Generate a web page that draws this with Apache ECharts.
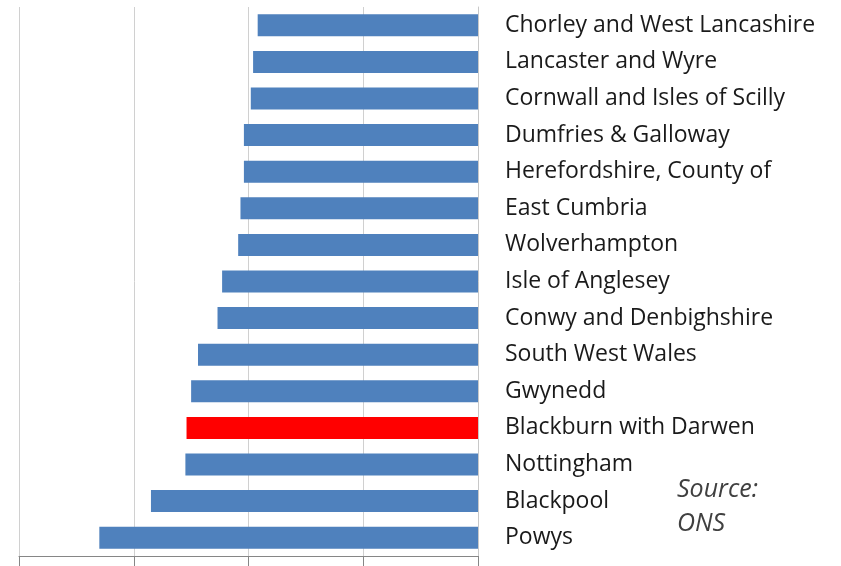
<!DOCTYPE html>
<html>
<head>
<meta charset="utf-8">
<script src="https://cdn.jsdelivr.net/npm/echarts@6/dist/echarts.min.js"></script>
<style>
  html, body { margin: 0; padding: 0; background: #fff; }
  #main { width: 841px; height: 566px; }
</style>
</head>
<body>
<div id="main"></div>
<script>
// areas, top to bottom
var areas = [
    'Chorley and West Lancashire', 'Lancaster and Wyre', 'Cornwall and Isles of Scilly',
    'Dumfries & Galloway', 'Herefordshire, County of', 'East Cumbria', 'Wolverhampton',
    'Isle of Anglesey', 'Conwy and Denbighshire', 'South West Wales', 'Gwynedd',
    'Blackburn with Darwen', 'Nottingham', 'Blackpool', 'Powys'
];
// values (gridline = 1 unit)
var values = [-1.92, -1.96, -1.98, -2.04, -2.04, -2.07, -2.09, -2.23, -2.27, -2.44, -2.50, -2.54, -2.55, -2.85, -3.30];
var highlight = 'Blackburn with Darwen';

var myChart = echarts.init(document.getElementById('main'));
myChart.setOption({
    animation: false,
    title: {
        text: 'Source:\nONS',
        left: 672,
        top: 468,
        textStyle: {
            fontFamily: 'Open Sans',
            fontStyle: 'italic',
            fontWeight: 'normal',
            fontSize: 25,
            lineHeight: 34,
            color: '#404040'
        }
    },
    grid: {
        left: 19,
        right: 363,
        top: 7,
        bottom: 10
    },
    xAxis: {
        type: 'value',
        min: -4,
        max: 0,
        interval: 1,
        axisLabel: {show: false},
        axisLine: {show: true, lineStyle: {color: '#868686'}},
        axisTick: {show: true, length: 10, lineStyle: {color: '#868686'}},
        splitLine: {show: true, lineStyle: {color: '#d0d0d0'}}
    },
    yAxis: {
        type: 'category',
        data: areas,
        inverse: true,
        position: 'right',
        axisLine: {show: true, lineStyle: {color: '#c8c8c8'}},
        axisTick: {show: false},
        axisLabel: {
            margin: 27,
            align: 'left',
            padding: [4, 0, 0, 0],
            fontFamily: 'Open Sans',
            fontSize: 23,
            color: '#1a1a1a'
        }
    },
    series: [{
        type: 'bar',
        barWidth: 22,
        data: values.map(function (v, i) {
            return {
                value: v,
                itemStyle: {color: areas[i] === highlight ? '#ff0000' : '#4f81bd'}
            };
        })
    }]
});
</script>
</body>
</html>
